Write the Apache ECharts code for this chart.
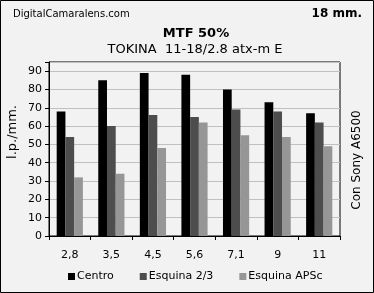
<!DOCTYPE html>
<html><head><meta charset="utf-8">
<script src="https://cdn.jsdelivr.net/npm/echarts@6/dist/echarts.min.js"></script>
<style>html,body{margin:0;padding:0;background:#fff}#c{width:374px;height:293px}</style>
</head><body><div id="c"></div>
<script>
var categories = ['2,8','3,5','4,5','5,6','7,1','9','11'];
var centro = [68,85,89,88,80,73,67];
var esquina23 = [54,60,66,65,69,68,62];
var esquinaAPSc = [32,34,48,62,55,54,49];
var yTicks = [0,10,20,30,40,50,60,70,80,90];

var F = 'DejaVu Sans';
var chart = echarts.init(document.getElementById('c'), null, {renderer:'canvas'});
chart.setOption({
  backgroundColor:'#f2f2f2',
  animation:false,
  graphic:[
    {type:'rect',shape:{x:0.5,y:0.5,width:373,height:292},style:{fill:'none',stroke:'#000',lineWidth:1}},
    {type:'text',left:13,top:9,style:{text:'DigitalCamaralens.com',font:'10px '+F,fill:'#000'}},
    {type:'text',right:12,top:8,style:{text:'18 mm.',font:'bold 12px '+F,fill:'#000'}},
    {type:'text',x:196,y:34,style:{text:'MTF 50%',font:'bold 13px '+F,fill:'#000',align:'center',verticalAlign:'middle'}},
    {type:'text',x:195,y:50,style:{text:'TOKINA  11-18/2.8 atx-m E',font:'13px '+F,fill:'#000',align:'center',verticalAlign:'middle'}},
    {type:'text',x:357,y:160,rotation:Math.PI/2,style:{text:'Con Sony A6500',font:'12px '+F,fill:'#000',align:'center',verticalAlign:'middle'}},
    {type:'text',x:13,y:132,rotation:Math.PI/2,style:{text:'l.p./mm.',font:'13px '+F,fill:'#000',align:'center',verticalAlign:'middle'}}
  ],
  grid:{left:49,right:34,top:62,bottom:57,show:true,borderColor:'#000',borderWidth:1,backgroundColor:'transparent'},
  legend:{top:266,left:63,itemWidth:7,itemHeight:7,itemGap:26,icon:'rect',
    textStyle:{fontFamily:F,fontSize:11,color:'#000',padding:[0,0,0,-3]},
    data:['Centro','Esquina 2/3','Esquina APSc']},
  xAxis:{type:'category',data:categories,
    axisLine:{lineStyle:{color:'#000'}},
    axisTick:{show:true,length:4,lineStyle:{color:'#000'}},
    axisLabel:{fontFamily:F,fontSize:11,color:'#000',margin:14}},
  yAxis:{type:'value',min:0,max:95,interval:10,
    axisLine:{show:true,lineStyle:{color:'#000'}},
    axisTick:{show:true,length:4,lineStyle:{color:'#000'}},
    axisLabel:{fontFamily:F,fontSize:11,color:'#000',margin:7,
      formatter:function(v){return yTicks.indexOf(v)>=0?String(v):'';}},
    splitLine:{lineStyle:{color:'#c0c0c0',width:1}}},
  series:[
    {name:'Centro',type:'bar',data:centro,itemStyle:{color:'#000'},barGap:'0%',barCategoryGap:'37%'},
    {name:'Esquina 2/3',type:'bar',data:esquina23,itemStyle:{color:'#4d4d4d'},barGap:'0%',barCategoryGap:'37%'},
    {name:'Esquina APSc',type:'bar',data:esquinaAPSc,itemStyle:{color:'#969696'},barGap:'0%',barCategoryGap:'37%'}
  ]
});
</script></body></html>
